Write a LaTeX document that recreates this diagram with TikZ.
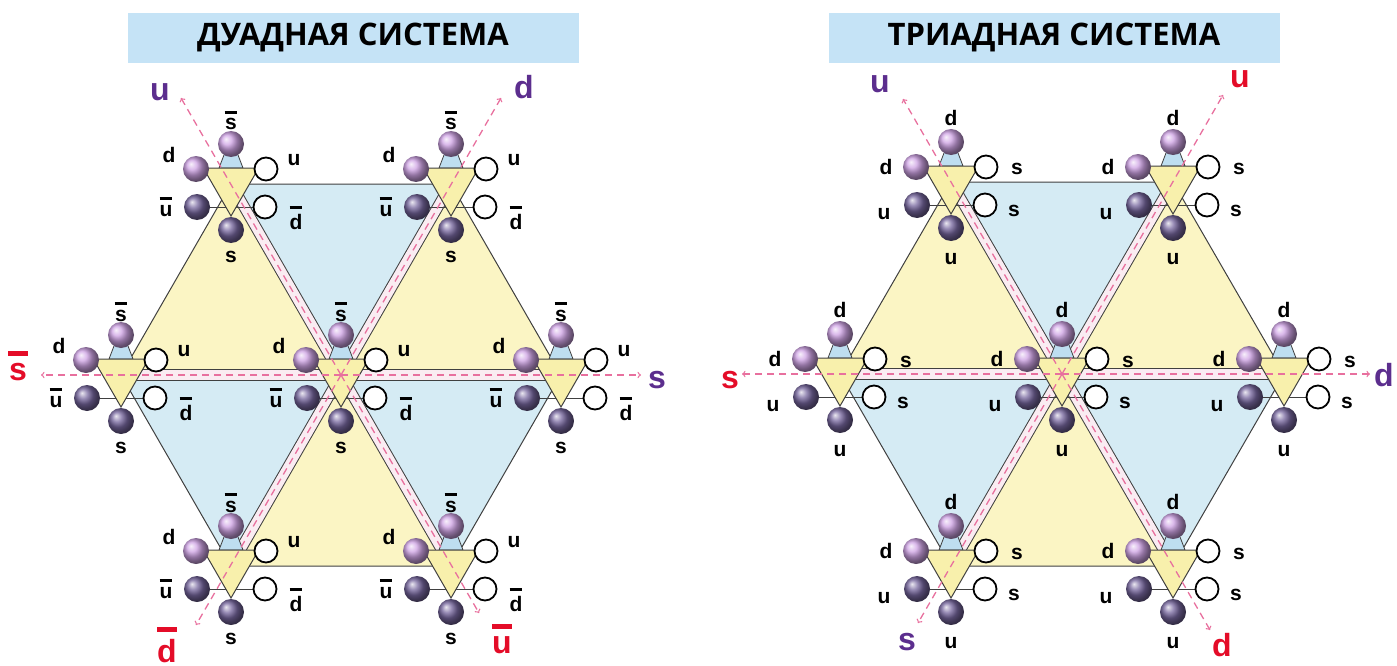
\documentclass[tikz,border=0pt]{standalone}
\usepackage{fontspec}
\setmainfont{Liberation Sans}
\newfontfamily\headfont{Open Sans}
\usetikzlibrary{shapes.geometric}

\definecolor{paleyellow}{RGB}{251,245,196}
\definecolor{paleblue}{RGB}{213,235,244}
\definecolor{headblue}{RGB}{197,227,246}
\definecolor{knotyellow}{RGB}{248,240,172}
\definecolor{legblue}{RGB}{190,222,240}
\definecolor{stripfill}{RGB}{250,236,242}
\definecolor{axispink}{RGB}{232,112,158}
\definecolor{quarkviolet}{RGB}{206,162,228}
\definecolor{quarkdark}{RGB}{118,102,158}
\definecolor{labpurple}{RGB}{92,46,142}
\definecolor{labred}{RGB}{228,12,40}

\tikzstyle{headbox}=[fill=headblue,minimum width=451pt,minimum height=50pt,inner sep=0pt,font=\headfont\bfseries\fontsize{31}{31}\selectfont]
\tikzstyle{yel}=[fill=paleyellow,draw=black!75,line width=1pt]
\tikzstyle{blu}=[fill=paleblue,draw=black!75,line width=1pt]
\tikzstyle{rail}=[draw=black!75,line width=1pt,double=stripfill,double distance=9.5pt]
\tikzstyle{axis}=[->,draw=axispink,line width=1.3pt,dash pattern=on 7pt off 5pt]
\tikzstyle{knot}=[regular polygon,regular polygon sides=3,shape border rotate=180,minimum size=64pt,inner sep=0pt,draw=black!75,line width=1pt,fill=knotyellow]
\tikzstyle{qlight}=[circle,minimum size=26pt,inner sep=0pt,ball color=quarkviolet]
\tikzstyle{qdark}=[circle,minimum size=26pt,inner sep=0pt,ball color=quarkdark]
\tikzstyle{qwhite}=[circle,minimum size=23pt,inner sep=0pt,draw=black,line width=1.8pt,fill=white]
\tikzstyle{tag}=[inner sep=0pt,anchor=base,font=\bfseries\fontsize{21}{21}\selectfont]
\tikzstyle{axred}=[inner sep=0pt,anchor=base,text=labred,font=\bfseries\fontsize{32}{32}\selectfont]
\tikzstyle{axviolet}=[inner sep=0pt,anchor=base,text=labpurple,font=\bfseries\fontsize{32}{32}\selectfont]

% antiquark: letter with a bar over it
\newcommand{\bq}[1]{\vbox{\offinterlineskip\halign{\hfil##\hfil\cr\rule{0.6em}{0.15em}\cr\noalign{\kern0.22em}#1\cr}}}

% one vertex: small triangle with six quarks round it
% #1 vertex, #2 top, #3 upper left, #4 upper right, #5 lower left, #6 lower right, #7 bottom
\newcommand{\hadron}[7]{%
\begin{scope}[shift={(#1)}]
\filldraw[fill=legblue,draw=black!75,line width=0.8pt] (-7,-29) -- (-12,-16) -- (12,-16) -- (7,-29);
\draw[black!75,line width=1pt] (-30,23) -- (30,23);
\node[knot]   (#1k) at (0,0)     {};
\node[qlight] (#1a) at (0,-40)   {};
\node[qlight] (#1b) at (-35,-15) {};
\node[qwhite] (#1c) at (35,-15)  {};
\node[qdark]  (#1d) at (-34,23)  {};
\node[qwhite] (#1e) at (34,23)   {};
\node[qdark]  (#1f) at (0,46)    {};
\node[tag,ltop] (#1ta) {#2};
\node[tag,lul]  (#1tb) {#3};
\node[tag,lur]  (#1tc) {#4};
\node[tag,lll]  (#1td) {#5};
\node[tag,llr]  (#1te) {#6};
\node[tag,lbot] (#1tf) {#7};
\end{scope}}

\begin{document}
\begin{tikzpicture}[x=1pt,y=-1pt]
\useasboundingbox (0,0) rectangle (1397,666);

\node[headbox] (Dhead) at (353,38)  {ДУАДНАЯ СИСТЕМА};
\node[headbox] (Thead) at (1054,38) {ТРИАДНАЯ СИСТЕМА};

% duad lattice
\coordinate (Dc)  at (341,375);
\coordinate (Dtl) at (231,184);
\coordinate (Dtr) at (451,184);
\coordinate (Dl)  at (121,375);
\coordinate (Dr)  at (561,375);
\coordinate (Dbl) at (231,566);
\coordinate (Dbr) at (451,566);

\filldraw[blu] (Dc) -- (Dtl) -- (Dtr) -- cycle;
\filldraw[yel] (Dc) -- (Dtl) -- (Dl) -- cycle;
\filldraw[yel] (Dc) -- (Dtr) -- (Dr) -- cycle;
\filldraw[blu] (Dc) -- (Dl) -- (Dbl) -- cycle;
\filldraw[blu] (Dc) -- (Dr) -- (Dbr) -- cycle;
\filldraw[yel] (Dc) -- (Dbl) -- (Dbr) -- cycle;

\draw[rail] (Dc) -- (Dtl);
\draw[rail] (Dc) -- (Dtr);
\draw[rail] (Dc) -- (Dl);
\draw[rail] (Dc) -- (Dr);
\draw[rail] (Dc) -- (Dbl);
\draw[rail] (Dc) -- (Dbr);

\begin{scope}[ltop/.style={at={(0,-54)}},lul/.style={at={(-62,-22)}},lur/.style={at={(63,-19)}},
  lll/.style={at={(-65,32)}},llr/.style={at={(65,45)}},lbot/.style={at={(0,78)}}]
\hadron{Dc}{\bq{s}}{d}{u}{\bq{u}}{\bq{d}}{s}
\hadron{Dtl}{\bq{s}}{d}{u}{\bq{u}}{\bq{d}}{s}
\hadron{Dtr}{\bq{s}}{d}{u}{\bq{u}}{\bq{d}}{s}
\hadron{Dl}{\bq{s}}{d}{u}{\bq{u}}{\bq{d}}{s}
\hadron{Dr}{\bq{s}}{d}{u}{\bq{u}}{\bq{d}}{s}
\hadron{Dbl}{\bq{s}}{d}{u}{\bq{u}}{\bq{d}}{s}
\hadron{Dbr}{\bq{s}}{d}{u}{\bq{u}}{\bq{d}}{s}
\end{scope}

\coordinate (Dtlx) at (181,98);
\coordinate (Dtrx) at (501,98);
\coordinate (Dlx)  at (41,375);
\coordinate (Drx)  at (641,375);
\coordinate (Dblx) at (196,625);
\coordinate (Dbrx) at (479,613);

\draw[axis] (Dc) -- (Dtlx);
\draw[axis] (Dc) -- (Dtrx);
\draw[axis] (Dc) -- (Dlx);
\draw[axis] (Dc) -- (Drx);
\draw[axis] (Dc) -- (Dblx);
\draw[axis] (Dc) -- (Dbrx);

\node[axviolet] (Du)  at (160,101) {u};
\node[axviolet] (Dd)  at (524,99)  {d};
\node[axred]    (Dsb) at (18,380)  {\bq{s}};
\node[axviolet] (Ds)  at (657,388) {s};
\node[axred]    (Ddb) at (167,662) {\bq{d}};
\node[axred]    (Dub) at (502,653) {\bq{u}};

% triad lattice
\coordinate (Tc)  at (1062,374);
\coordinate (Ttl) at (951,182);
\coordinate (Ttr) at (1173,182);
\coordinate (Tl)  at (840,374);
\coordinate (Tr)  at (1284,374);
\coordinate (Tbl) at (951,566);
\coordinate (Tbr) at (1173,566);

\filldraw[blu] (Tc) -- (Ttl) -- (Ttr) -- cycle;
\filldraw[yel] (Tc) -- (Ttl) -- (Tl) -- cycle;
\filldraw[yel] (Tc) -- (Ttr) -- (Tr) -- cycle;
\filldraw[blu] (Tc) -- (Tl) -- (Tbl) -- cycle;
\filldraw[blu] (Tc) -- (Tr) -- (Tbr) -- cycle;
\filldraw[yel] (Tc) -- (Tbl) -- (Tbr) -- cycle;

\draw[rail] (Tc) -- (Ttl);
\draw[rail] (Tc) -- (Ttr);
\draw[rail] (Tc) -- (Tl);
\draw[rail] (Tc) -- (Tr);
\draw[rail] (Tc) -- (Tbl);
\draw[rail] (Tc) -- (Tbr);

\begin{scope}[ltop/.style={at={(0,-57)}},lul/.style={at={(-65,-8)}},lur/.style={at={(66,-7)}},
  lll/.style={at={(-67,37)}},llr/.style={at={(63,34)}},lbot/.style={at={(0,82)}}]
\hadron{Tc}{d}{d}{s}{u}{s}{u}
\hadron{Ttl}{d}{d}{s}{u}{s}{u}
\hadron{Ttr}{d}{d}{s}{u}{s}{u}
\hadron{Tl}{d}{d}{s}{u}{s}{u}
\hadron{Tr}{d}{d}{s}{u}{s}{u}
\hadron{Tbl}{d}{d}{s}{u}{s}{u}
\hadron{Tbr}{d}{d}{s}{u}{s}{u}
\end{scope}

\coordinate (Ttlx) at (903,99);
\coordinate (Ttrx) at (1223,95);
\coordinate (Tlx)  at (742,374);
\coordinate (Trx)  at (1370,374);
\coordinate (Tblx) at (918,623);
\coordinate (Tbrx) at (1210,630);

\draw[axis] (Tc) -- (Ttlx);
\draw[axis] (Tc) -- (Ttrx);
\draw[axis] (Tc) -- (Tlx);
\draw[axis] (Tc) -- (Trx);
\draw[axis] (Tc) -- (Tblx);
\draw[axis] (Tc) -- (Tbrx);

\node[axviolet] (Tu)  at (880,93)   {u};
\node[axred]    (Tur) at (1240,88)  {u};
\node[axred]    (Ts)  at (730,388)  {s};
\node[axviolet] (Td)  at (1384,386) {d};
\node[axviolet] (Tsp) at (907,650)  {s};
\node[axred]    (Tdr) at (1222,656) {d};

\end{tikzpicture}
\end{document}
